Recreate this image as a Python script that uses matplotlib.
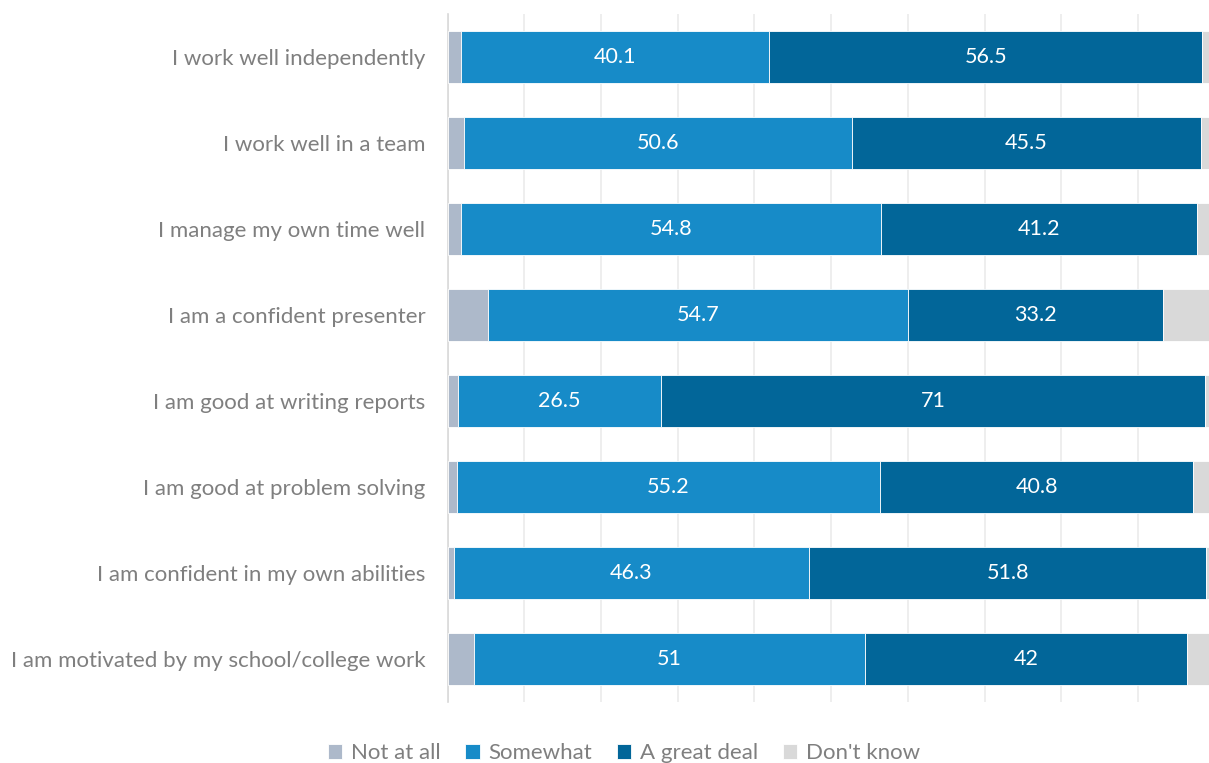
import numpy as np
import matplotlib
matplotlib.use("Agg")
import matplotlib.pyplot as plt

plt.rcParams['font.family'] = ['Lato', 'DejaVu Sans']

statements = [
    "I work well independently",
    "I work well in a team",
    "I manage my own time well",
    "I am a confident presenter",
    "I am good at writing reports",
    "I am good at problem solving",
    "I am confident in my own abilities",
    "I am motivated by my school/college work",
]
not_at_all = [1.8, 2.1, 1.7, 5.3, 1.3, 1.2, 0.8, 3.4]
somewhat = [40.1, 50.6, 54.8, 54.7, 26.5, 55.2, 46.3, 51]
great_deal = [56.5, 45.5, 41.2, 33.2, 71, 40.8, 51.8, 42]
dont_know = [1.6, 1.8, 2.3, 6.8, 1.2, 2.8, 1.1, 3.6]

series = [
    ("Not at all", not_at_all, "#adb9ca", False),
    ("Somewhat", somewhat, "#178bc8", True),
    ("A great deal", great_deal, "#026699", True),
    ("Don't know", dont_know, "#d9d9d9", False),
]

grey = "#7f7f7f"

fig = plt.figure(figsize=(12.09, 7.63), dpi=100)
ax = fig.add_axes([0.3703, 0.0799, 0.6344, 0.9018])

y = np.arange(len(statements))
left = np.zeros(len(statements))
for name, vals, col, show in series:
    vals = np.array(vals, dtype=float)
    ax.barh(y, vals, left=left, height=0.6, color=col, edgecolor="white",
            linewidth=0.6, label=name, zorder=3)
    if show:
        for yi, l, v in zip(y, left, vals):
            ax.text(l + v / 2, yi, f"{v:g}", ha="center", va="center",
                    color="white", fontsize=15.5, zorder=4)
    left += vals

ax.set_xlim(0, 100)
ax.set_ylim(len(statements) - 0.5, -0.5)
ax.set_xticks(np.arange(0, 101, 10))
ax.set_xticklabels([])
ax.tick_params(axis="x", length=0)
ax.tick_params(axis="y", length=0, pad=16)
ax.set_yticks(y)
ax.set_yticklabels(statements, fontsize=16, color=grey)
ax.grid(axis="x", color="#ebebeb", linewidth=1.2, zorder=0)
for s in ["top", "right", "bottom"]:
    ax.spines[s].set_visible(False)
ax.spines["left"].set_color("#d9d9d9")
ax.spines["left"].set_linewidth(1.2)

fig.legend(loc="center", bbox_to_anchor=(0.516, 0.0125), ncol=4, frameon=False,
           fontsize=16, labelcolor=grey, handlelength=0.65, handleheight=0.65,
           handletextpad=0.4, columnspacing=1.1)

fig.savefig("out.png", dpi=100)
